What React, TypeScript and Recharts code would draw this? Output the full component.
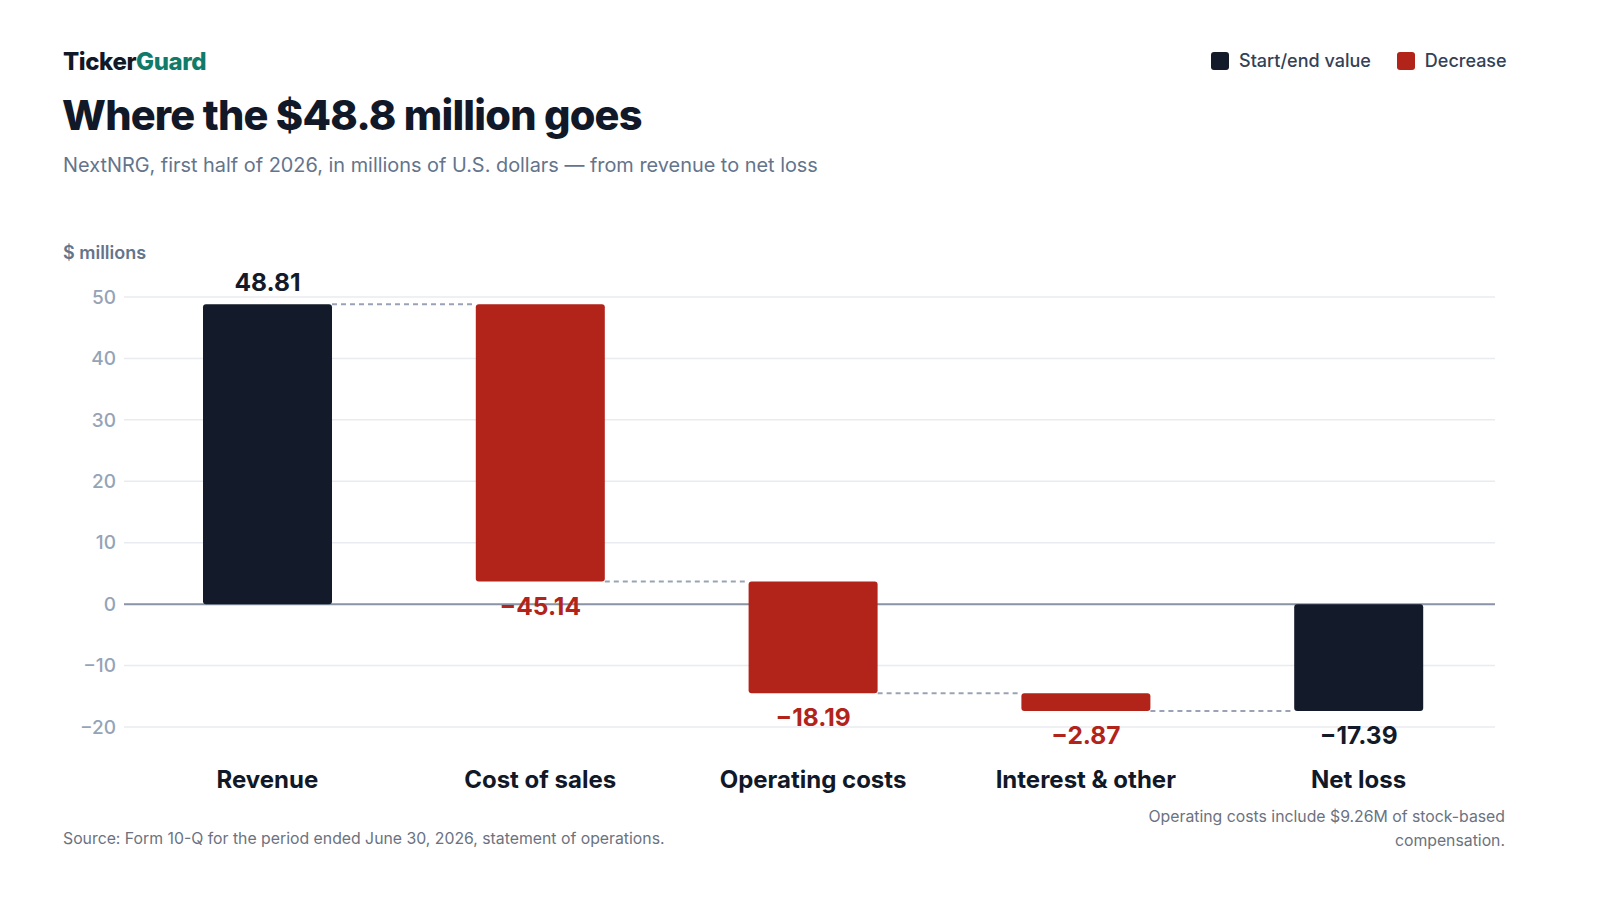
import React from 'react';
import { BarChart, Bar, XAxis, YAxis, CartesianGrid, ReferenceLine } from 'recharts';

const categories = ['Revenue', 'Cost of sales', 'Operating costs', 'Interest & other', 'Net loss'];
const values = [48.81, -45.14, -18.19, -2.87, -17.39];
const kinds = ['total', 'decrease', 'decrease', 'decrease', 'total'];
const valueLabels = ['48.81', '\u221245.14', '\u221218.19', '\u22122.87', '\u221217.39'];
const yTicks = [-20, -10, 0, 10, 20, 30, 40, 50];

const FONT = 'Inter, "Noto Sans", sans-serif';
const DARK = '#131a29';
const RED = '#b2231a';

const CHART_W = 1600;
const CHART_H = 900;
const MARGIN = { top: 297, right: 105, bottom: 113, left: 64 };
const Y_W = 60;
const X_H = 60;
const PAD_LEFT = 7;
const BAR_SIZE = 129;
const PLOT_W = CHART_W - MARGIN.left - MARGIN.right - Y_W - PAD_LEFT;
const BAND = PLOT_W / categories.length;

// waterfall data built from the arrays
let running = 0;
const data = categories.map((name, i) => {
  const v = values[i];
  let range: [number, number];
  let level: number;
  if (kinds[i] === 'total') {
    range = [Math.min(0, v), Math.max(0, v)];
    running = v;
    level = v;
  } else {
    const start = running;
    const end = running + v;
    range = [Math.min(start, end), Math.max(start, end)];
    running = end;
    level = end;
  }
  return { name, range, level, kind: kinds[i], value: v, label: valueLabels[i], index: i };
});

function roundedRect(x: number, y: number, w: number, h: number, r: number) {
  const rr = Math.min(r, w / 2, h / 2);
  return `M${x + rr},${y} L${x + w - rr},${y} Q${x + w},${y} ${x + w},${y + rr} L${x + w},${y + h - rr} Q${x + w},${y + h} ${x + w - rr},${y + h} L${x + rr},${y + h} Q${x},${y + h} ${x},${y + h - rr} L${x},${y + rr} Q${x},${y} ${x + rr},${y} Z`;
}

const WaterfallBar = (props: any) => {
  let { x, y, width, height, payload, index } = props;
  if (height < 0) {
    y = y + height;
    height = -height;
  }
  const p = payload;
  const fill = p.kind === 'total' ? DARK : RED;
  const isLast = index === categories.length - 1;
  const levelY = p.kind === 'total' && p.value >= 0 ? y : y + height;
  const above = p.kind === 'total' && p.value >= 0;
  const labelColor = p.kind === 'total' ? DARK : RED;
  const gap = BAND - width;
  return (
    <g>
      <path d={roundedRect(x, y, width, height, 3)} fill={fill} />
      {!isLast && (
        <line
          x1={x + width}
          x2={x + width + gap}
          y1={levelY}
          y2={levelY}
          stroke="#9aa3b5"
          strokeWidth={2}
          strokeDasharray="5 4"
        />
      )}
      <text
        x={x + width / 2}
        y={above ? y - 13 : y + height + 33}
        textAnchor="middle"
        fill={labelColor}
        fontFamily={FONT}
        fontSize={24.5}
        fontWeight={700}
      >
        {p.label}
      </text>
    </g>
  );
};

const fmtTick = (v: number) => (v < 0 ? '\u2212' + Math.abs(v) : String(v));

export default function App() {
  return (
    <div style={{ position: 'absolute', left: 0, top: 0, width: 1600, height: 900, background: '#fff', fontFamily: FONT }}>
      <div style={{ position: 'absolute', left: 63, top: 47, fontSize: 24, fontWeight: 800, letterSpacing: -0.4, color: '#111827' }}>
        Ticker<span style={{ color: '#0f7b68' }}>Guard</span>
      </div>
      <div style={{ position: 'absolute', left: 1211, top: 50, display: 'flex', alignItems: 'center', fontSize: 18, fontWeight: 500, color: '#334155' }}>
        <span style={{ width: 18, height: 18, borderRadius: 3, background: DARK, display: 'inline-block', marginRight: 10 }} />
        <span>Start/end value</span>
        <span style={{ width: 18, height: 18, borderRadius: 3, background: RED, display: 'inline-block', marginLeft: 26, marginRight: 10 }} />
        <span>Decrease</span>
      </div>
      <div style={{ position: 'absolute', left: 62, top: 90, fontSize: 41.5, fontWeight: 800, letterSpacing: -0.8, color: '#111827' }}>
        Where the $48.8 million goes
      </div>
      <div style={{ position: 'absolute', left: 63, top: 153, fontSize: 19.9, fontWeight: 400, color: '#64748b' }}>
        NextNRG, first half of 2026, in millions of U.S. dollars — from revenue to net loss
      </div>
      <div style={{ position: 'absolute', left: 63, top: 242, fontSize: 18, fontWeight: 600, color: '#64748b' }}>
        $ millions
      </div>
      <div style={{ position: 'absolute', left: 0, top: 0 }}>
        <BarChart width={CHART_W} height={CHART_H} data={data} margin={MARGIN} barSize={BAR_SIZE}>
          <CartesianGrid vertical={false} stroke="#e8ebf0" strokeWidth={1.5} />
          <ReferenceLine y={0} stroke="#8a94a6" strokeWidth={2} zIndex={0} />
          <XAxis
            dataKey="name"
            axisLine={false}
            tickLine={false}
            height={X_H}
            padding={{ left: PAD_LEFT, right: 0 }}
            tickMargin={38}
            interval={0}
            tick={{ fill: '#111827', fontSize: 24, fontWeight: 700, fontFamily: FONT }}
          />
          <YAxis
            type="number"
            domain={[-20, 50]}
            ticks={yTicks}
            width={Y_W}
            axisLine={false}
            tickLine={false}
            tickFormatter={fmtTick}
            tick={{ fill: '#94a3b8', fontSize: 19, fontWeight: 500, fontFamily: FONT }}
          />
          <Bar dataKey="range" isAnimationActive={false} shape={(p: any) => <WaterfallBar {...p} />} />
        </BarChart>
      </div>
      <div style={{ position: 'absolute', left: 63, top: 829, fontSize: 15.8, color: '#6b7280' }}>
        Source: Form 10-Q for the period ended June 30, 2026, statement of operations.
      </div>
      <div style={{ position: 'absolute', right: 95, top: 805, width: 420, textAlign: 'right', fontSize: 15.8, lineHeight: '24px', color: '#6b7280' }}>
        Operating costs include $9.26M of stock-based compensation.
      </div>
    </div>
  );
}
